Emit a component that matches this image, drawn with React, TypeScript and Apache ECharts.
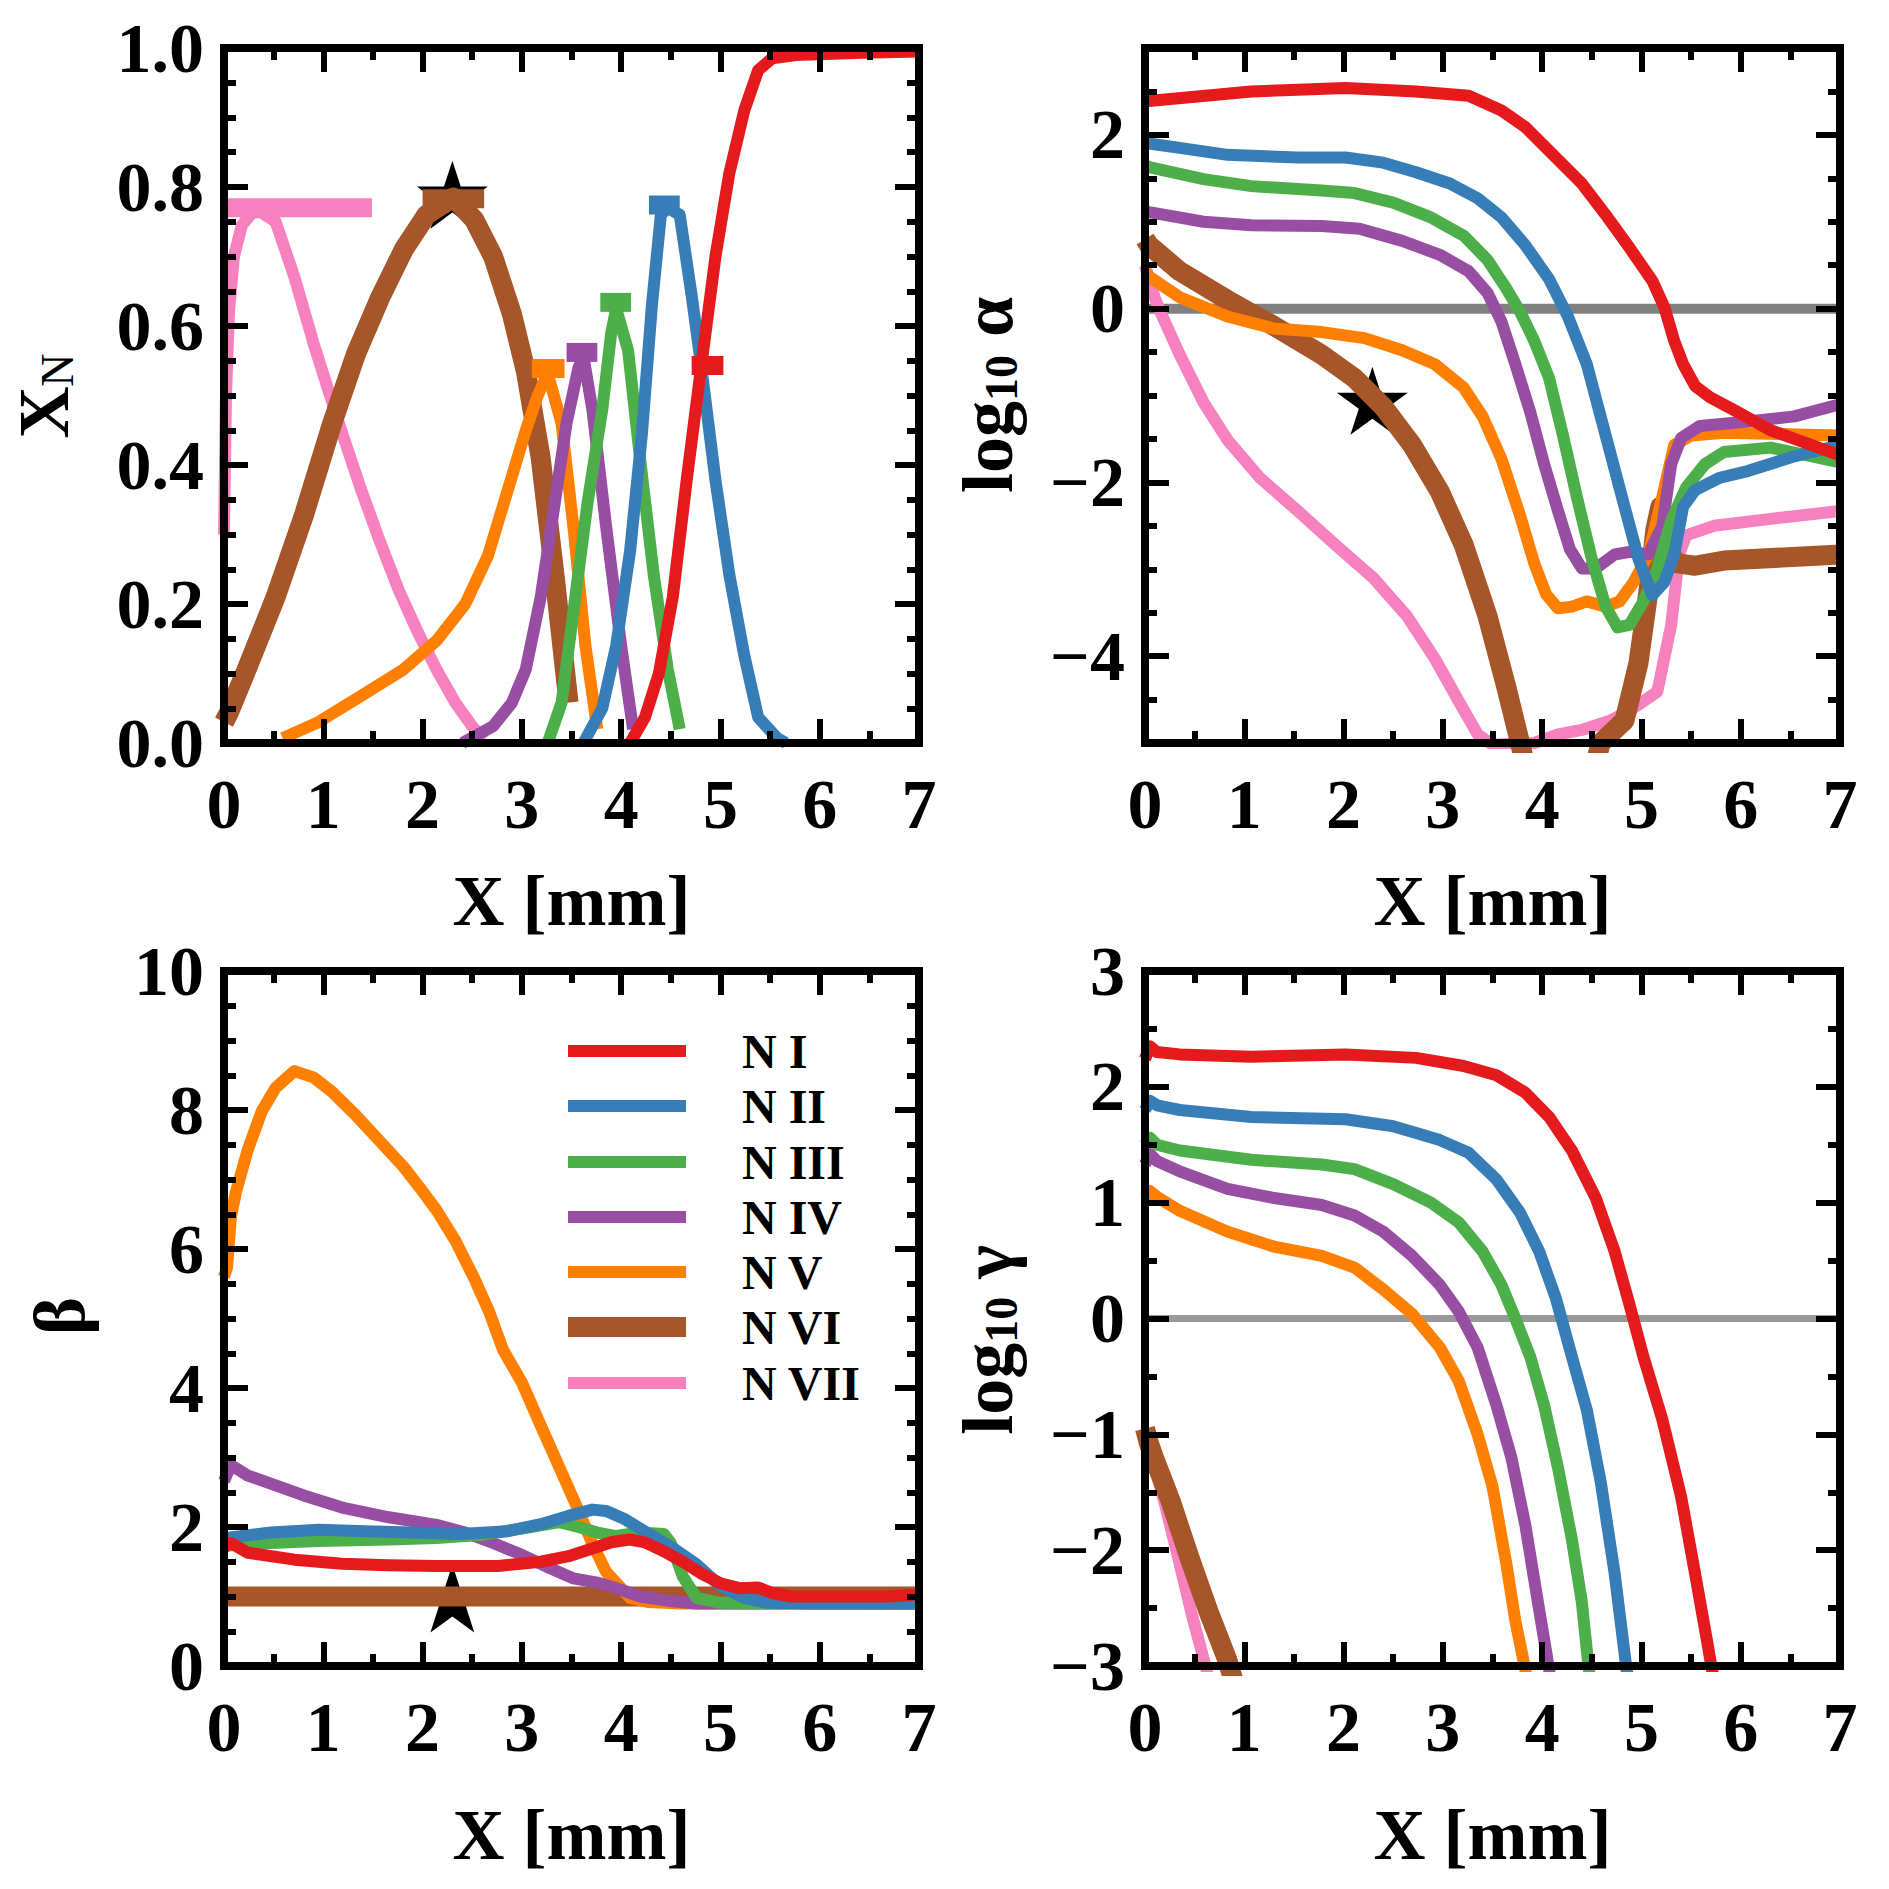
import React, { useEffect, useRef } from 'react';
import * as echarts from 'echarts';

type Pt = [number, number];

const FONT = "'Liberation Serif', 'Times New Roman', serif";

const ionNames = ['N I', 'N II', 'N III', 'N IV', 'N V', 'N VI', 'N VII'];
const ionColors = ['#e41a1c', '#377eb8', '#4daf4a', '#984ea3', '#ff7f00', '#a65628', '#f781bf'];
const ionWidths = [12, 12, 12, 12, 12, 20, 12];

// ---- ion fractions X_N ----
const xnNI: Pt[] = [[4.09, 0], [4.24, 0.037], [4.38, 0.1], [4.52, 0.21], [4.66, 0.378], [4.8, 0.535], [4.95, 0.7], [5.09, 0.82], [5.24, 0.91], [5.38, 0.968], [5.52, 0.985], [5.76, 0.99], [6.43, 0.993], [7, 0.995]];
const xnNII: Pt[] = [[3.62, 0], [3.81, 0.05], [3.95, 0.14], [4.09, 0.276], [4.21, 0.446], [4.31, 0.63], [4.4, 0.76], [4.47, 0.77], [4.59, 0.76], [4.71, 0.644], [4.8, 0.549], [4.95, 0.378], [5.09, 0.242], [5.24, 0.126], [5.38, 0.037], [5.57, 0.007], [5.66, 0]];
const xnNIII: Pt[] = [[3.26, 0], [3.4, 0.058], [3.52, 0.19], [3.66, 0.344], [3.81, 0.48], [3.9, 0.59], [3.95, 0.625], [4.07, 0.565], [4.19, 0.41], [4.33, 0.24], [4.47, 0.106], [4.59, 0.02]];
const xnNIV: Pt[] = [[2.4, 0], [2.71, 0.024], [2.9, 0.058], [3.04, 0.106], [3.19, 0.21], [3.33, 0.344], [3.45, 0.46], [3.57, 0.54], [3.62, 0.556], [3.71, 0.48], [3.85, 0.31], [4.0, 0.14], [4.12, 0.02]];
const xnNV: Pt[] = [[0.59, 0.007], [0.95, 0.03], [1.43, 0.072], [1.81, 0.106], [2.14, 0.147], [2.43, 0.2], [2.66, 0.27], [2.85, 0.36], [3.04, 0.45], [3.16, 0.5], [3.26, 0.532], [3.4, 0.46], [3.52, 0.31], [3.64, 0.14], [3.76, 0.02]];
const xnNVI: Pt[] = [[0, 0.03], [0.05, 0.044], [0.24, 0.11], [0.52, 0.21], [0.81, 0.33], [1.09, 0.46], [1.33, 0.56], [1.57, 0.64], [1.81, 0.71], [2.04, 0.76], [2.31, 0.785], [2.52, 0.753], [2.71, 0.7], [2.9, 0.617], [3.04, 0.535], [3.19, 0.41], [3.33, 0.24], [3.47, 0.058]];
const xnNVII: Pt[] = [[0, 0.3], [0.02, 0.5], [0.05, 0.62], [0.1, 0.7], [0.18, 0.745], [0.28, 0.762], [0.36, 0.765], [0.52, 0.75], [0.71, 0.67], [0.9, 0.576], [1.05, 0.508], [1.19, 0.446], [1.38, 0.365], [1.57, 0.29], [1.76, 0.22], [1.95, 0.16], [2.14, 0.106], [2.33, 0.058], [2.5, 0.024], [2.62, 0.005]];

// peak markers of X_N (level, from, to)
const xnPeakLevel = [0.543, 0.774, 0.634, 0.562, 0.539, 0.783, 0.77];
const xnPeakFrom = [4.71, 4.28, 3.79, 3.45, 3.1, 2.0, 0];
const xnPeakTo = [5.03, 4.59, 4.1, 3.76, 3.43, 2.62, 1.49];

// ---- log10 alpha ----
const alNI: Pt[] = [[0, 2.38], [0.04, 2.39], [1.07, 2.5], [2.02, 2.54], [2.73, 2.5], [3.26, 2.45], [3.59, 2.28], [3.83, 2.09], [4.11, 1.77], [4.4, 1.44], [4.64, 1.08], [4.88, 0.7], [5.11, 0.32], [5.23, 0.02], [5.33, -0.37], [5.42, -0.64], [5.54, -0.89], [5.69, -1.02], [5.92, -1.16], [6.3, -1.4], [6.64, -1.54], [7, -1.69]];
const alNII: Pt[] = [[0, 1.92], [0.04, 1.9], [0.35, 1.85], [0.83, 1.77], [1.54, 1.74], [2.02, 1.74], [2.4, 1.68], [2.73, 1.57], [3.07, 1.44], [3.35, 1.27], [3.59, 1.05], [3.83, 0.73], [4.07, 0.34], [4.26, -0.09], [4.45, -0.64], [4.64, -1.46], [4.83, -2.28], [4.97, -2.88], [5.11, -3.3], [5.23, -3.15], [5.33, -2.83], [5.42, -2.28], [5.54, -2.09], [5.78, -1.95], [6.07, -1.87], [6.54, -1.7], [7, -1.57]];
const alNIII: Pt[] = [[0, 1.65], [0.04, 1.63], [0.59, 1.49], [1.07, 1.41], [1.78, 1.36], [2.11, 1.33], [2.5, 1.22], [2.88, 1.05], [3.21, 0.84], [3.45, 0.56], [3.64, 0.23], [3.78, -0.04], [3.92, -0.37], [4.07, -0.8], [4.21, -1.46], [4.35, -2.17], [4.5, -2.88], [4.64, -3.43], [4.76, -3.67], [4.88, -3.64], [5.02, -3.37], [5.16, -2.99], [5.3, -2.44], [5.45, -2.06], [5.64, -1.79], [5.83, -1.65], [6.3, -1.6], [7, -1.77]];
const alNIV: Pt[] = [[0, 1.13], [0.04, 1.11], [0.59, 1.0], [1.07, 0.96], [1.78, 0.95], [2.16, 0.92], [2.59, 0.78], [2.97, 0.62], [3.26, 0.43], [3.45, 0.18], [3.59, -0.15], [3.73, -0.64], [3.88, -1.19], [4.02, -1.79], [4.16, -2.33], [4.28, -2.77], [4.4, -2.99], [4.54, -2.99], [4.73, -2.83], [4.88, -2.8], [5.07, -2.83], [5.21, -2.5], [5.3, -1.79], [5.4, -1.49], [5.59, -1.35], [6.07, -1.3], [6.54, -1.24], [7, -1.1]];
const alNV: Pt[] = [[0, 0.42], [0.04, 0.37], [0.35, 0.13], [0.83, -0.09], [1.3, -0.23], [1.78, -0.27], [2.21, -0.34], [2.59, -0.48], [2.92, -0.64], [3.21, -0.91], [3.4, -1.24], [3.59, -1.73], [3.78, -2.39], [3.92, -2.93], [4.04, -3.29], [4.16, -3.45], [4.3, -3.43], [4.45, -3.37], [4.64, -3.43], [4.78, -3.37], [4.92, -3.15], [5.07, -2.83], [5.21, -2.17], [5.33, -1.57], [5.5, -1.46], [5.83, -1.43], [7, -1.46]];
const alNVI: Pt[] = [[0, 0.8], [0.04, 0.73], [0.35, 0.43], [0.83, 0.1], [1.3, -0.2], [1.78, -0.53], [2.11, -0.8], [2.4, -1.13], [2.69, -1.57], [2.97, -2.11], [3.21, -2.72], [3.45, -3.54], [3.64, -4.36], [3.78, -5.01], [3.9, -5.6], [4.45, -5.6], [4.59, -5.0], [4.83, -4.74], [4.97, -4.08], [5.07, -3.26], [5.14, -2.55], [5.19, -2.28], [5.26, -2.75], [5.35, -2.93], [5.54, -2.96], [5.83, -2.9], [7, -2.83]];
const alNVII: Pt[] = [[0, 0.5], [0.04, 0.35], [0.1, 0.12], [0.16, -0.05], [0.35, -0.53], [0.59, -1.08], [0.83, -1.51], [1.16, -1.95], [1.54, -2.33], [1.92, -2.72], [2.3, -3.1], [2.64, -3.54], [2.92, -4.03], [3.16, -4.52], [3.35, -4.9], [3.5, -5.02], [3.92, -5.0], [4.16, -4.9], [4.4, -4.85], [4.69, -4.74], [4.88, -4.63], [5.16, -4.41], [5.3, -3.64], [5.38, -2.83], [5.45, -2.61], [5.73, -2.5], [6.3, -2.42], [7, -2.33]];

// ---- beta ----
const beNI: Pt[] = [[0, 1.7], [0.04, 1.75], [0.07, 1.77], [0.24, 1.63], [0.71, 1.53], [1.19, 1.47], [1.66, 1.45], [2.14, 1.44], [2.76, 1.44], [3.19, 1.5], [3.47, 1.58], [3.71, 1.69], [3.9, 1.78], [4.09, 1.82], [4.24, 1.78], [4.43, 1.65], [4.62, 1.5], [4.81, 1.33], [5.0, 1.19], [5.19, 1.12], [5.38, 1.13], [5.52, 1.05], [5.71, 1.0], [6.2, 1.0], [6.7, 1.0], [7, 1.03]];
const beNII: Pt[] = [[0, 1.84], [0.47, 1.92], [0.95, 1.96], [1.43, 1.94], [1.9, 1.92], [2.38, 1.9], [2.86, 1.94], [3.19, 2.04], [3.47, 2.16], [3.71, 2.25], [3.85, 2.23], [4.04, 2.11], [4.28, 1.9], [4.52, 1.7], [4.76, 1.46], [5.0, 1.15], [5.24, 0.98], [5.47, 0.91], [5.95, 0.9], [7, 0.9]];
const beNIII: Pt[] = [[0, 1.73], [0.47, 1.77], [0.95, 1.8], [1.66, 1.82], [2.14, 1.84], [2.61, 1.89], [3.09, 2.0], [3.38, 2.07], [3.57, 2.0], [3.76, 1.92], [3.95, 1.87], [4.19, 1.92], [4.43, 1.9], [4.5, 1.77], [4.62, 1.29], [4.76, 0.98], [5.0, 0.91], [7, 0.9]];
const beNIV: Pt[] = [[0, 2.66], [0.07, 2.89], [0.14, 2.83], [0.24, 2.74], [0.52, 2.6], [0.81, 2.45], [1.19, 2.28], [1.66, 2.14], [2.14, 2.03], [2.43, 1.92], [2.71, 1.77], [3.0, 1.6], [3.28, 1.41], [3.52, 1.26], [3.76, 1.2], [3.95, 1.12], [4.19, 1.0], [4.47, 0.94], [4.76, 0.9], [7, 0.9]];
const beNV: Pt[] = [[0, 5.6], [0.03, 5.73], [0.07, 6.46], [0.12, 6.82], [0.24, 7.43], [0.38, 7.98], [0.52, 8.32], [0.71, 8.56], [0.9, 8.47], [1.09, 8.26], [1.33, 7.92], [1.57, 7.55], [1.81, 7.18], [2.0, 6.83], [2.14, 6.56], [2.33, 6.12], [2.52, 5.58], [2.67, 5.1], [2.81, 4.55], [3.0, 4.08], [3.19, 3.46], [3.38, 2.85], [3.57, 2.24], [3.71, 1.76], [3.85, 1.35], [4.0, 1.12], [4.09, 0.98], [4.28, 0.92], [4.6, 0.9], [7, 0.9]];
const beNVI: Pt[] = [[0, 1.0], [3.5, 1.0], [7, 1.0]];
const beNVII: Pt[] = [[0, 1.0], [7, 1.0]];

// ---- log10 gamma ----
const gaNI: Pt[] = [[0, 2.24], [0.05, 2.35], [0.12, 2.3], [0.35, 2.28], [1.07, 2.26], [2.02, 2.28], [2.73, 2.25], [3.21, 2.18], [3.54, 2.1], [3.83, 1.95], [4.07, 1.74], [4.3, 1.45], [4.54, 1.04], [4.73, 0.58], [4.88, 0.12], [5.02, -0.33], [5.21, -0.87], [5.4, -1.54], [5.54, -2.2], [5.66, -2.78], [5.71, -3.03], [5.75, -3.2]];
const gaNII: Pt[] = [[0, 1.8], [0.05, 1.88], [0.12, 1.84], [0.35, 1.8], [1.07, 1.74], [2.02, 1.72], [2.5, 1.66], [2.97, 1.54], [3.26, 1.43], [3.54, 1.2], [3.78, 0.91], [3.97, 0.58], [4.14, 0.17], [4.3, -0.33], [4.45, -0.79], [4.59, -1.41], [4.73, -2.2], [4.85, -3.03], [4.9, -3.2]];
const gaNIII: Pt[] = [[0, 1.5], [0.05, 1.56], [0.12, 1.5], [0.35, 1.45], [1.07, 1.37], [1.78, 1.33], [2.11, 1.29], [2.5, 1.16], [2.88, 1.0], [3.16, 0.83], [3.4, 0.58], [3.59, 0.29], [3.73, 0.0], [3.88, -0.33], [4.02, -0.75], [4.16, -1.29], [4.3, -1.91], [4.4, -2.45], [4.47, -3.03], [4.5, -3.2]];
const gaNIV: Pt[] = [[0, 1.33], [0.05, 1.42], [0.12, 1.36], [0.35, 1.27], [0.83, 1.12], [1.3, 1.04], [1.78, 0.98], [2.11, 0.89], [2.4, 0.75], [2.69, 0.54], [2.97, 0.29], [3.16, 0.06], [3.35, -0.25], [3.54, -0.75], [3.69, -1.2], [3.83, -1.78], [3.95, -2.41], [4.07, -3.03], [4.1, -3.2]];
const gaNV: Pt[] = [[0, 1.05], [0.05, 1.1], [0.12, 1.05], [0.35, 0.93], [0.83, 0.75], [1.3, 0.62], [1.78, 0.54], [2.11, 0.44], [2.4, 0.25], [2.69, 0.04], [2.97, -0.25], [3.16, -0.54], [3.35, -1.0], [3.5, -1.45], [3.64, -2.12], [3.73, -2.61], [3.83, -3.03], [3.86, -3.2]];
const gaNVI: Pt[] = [[0, -0.95], [0.04, -1.08], [0.09, -1.2], [0.26, -1.58], [0.45, -2.07], [0.64, -2.53], [0.83, -2.95], [0.9, -3.15]];
const gaNVII: Pt[] = [[0, -1.0], [0.09, -1.25], [0.2, -1.6], [0.33, -2.05], [0.47, -2.55], [0.61, -3.0], [0.65, -3.15]];

// reference markers (upper panels and beta panel)
const starX = [2.3, 2.29, 2.3];
const starY = [0.789, -1.06, 0.97];

const xTicks = [0, 1, 2, 3, 4, 5, 6, 7];
const alphaTicks = [-4, -2, 0, 2];
const zeroLevel = 0;

const STAR = 'path://M0,-100 L22.45,-30.9 L95.1,-30.9 L36.3,11.8 L58.8,80.9 L0,38.2 L-58.8,80.9 L-36.3,11.8 L-95.1,-30.9 L-22.45,-30.9 Z';

const minusFmt = (v: number) => {
  const r = Math.round(v * 100) / 100;
  return r < 0 ? '\u2212' + Math.abs(r) : String(r);
};

interface Panel {
  rect: [number, number, number, number];
  yMin: number;
  yMax: number;
  yStep: number;
  yMinorSplit: number;
  yCustom?: number[];
  fmt: (v: number) => string;
  data: Pt[][];
  nameGap: number;
  zero?: { color: string; width: number };
}

const panels: Panel[] = [
  { rect: [224, 48, 695, 695], yMin: 0, yMax: 1, yStep: 0.2, yMinorSplit: 4, fmt: (v) => v.toFixed(1), nameGap: 122,
    data: [xnNI, xnNII, xnNIII, xnNIV, xnNV, xnNVI, xnNVII] },
  { rect: [1145, 48, 695, 695], yMin: -5, yMax: 3, yStep: 0.5, yMinorSplit: 1, yCustom: alphaTicks, fmt: minusFmt, nameGap: 122,
    data: [alNI, alNII, alNIII, alNIV, alNV, alNVI, alNVII], zero: { color: '#808080', width: 10 } },
  { rect: [224, 971, 695, 695], yMin: 0, yMax: 10, yStep: 2, yMinorSplit: 4, fmt: (v) => String(v), nameGap: 133,
    data: [beNI, beNII, beNIII, beNIV, beNV, beNVI, beNVII] },
  { rect: [1145, 971, 695, 695], yMin: -3, yMax: 3, yStep: 1, yMinorSplit: 2, fmt: minusFmt, nameGap: 133,
    data: [gaNI, gaNII, gaNIII, gaNIV, gaNV, gaNVI, gaNVII], zero: { color: '#999999', width: 7 } },
];

const black = '#000';
const lineAxis = { show: true, onZero: false, lineStyle: { color: black, width: 8, cap: 'square' } };
const noLine = { show: false, onZero: false };
const majorTick = { show: true, inside: true, length: 24, lineStyle: { color: black, width: 6 } };
const minorTickStyle = { show: true, length: 12, lineStyle: { color: black, width: 6 } };
const tickLabel = { fontFamily: FONT, fontWeight: 'bold', fontSize: 70, color: black };

function buildOption() {
  const grid: any[] = [];
  const xAxis: any[] = [];
  const yAxis: any[] = [];
  const series: any[] = [];

  panels.forEach((p, gi) => {
    grid.push({ left: p.rect[0], top: p.rect[1], width: p.rect[2], height: p.rect[3], containLabel: false });

    const xBase = {
      gridIndex: gi, type: 'value', min: xTicks[0], max: xTicks[xTicks.length - 1], interval: 1, z: 10,
      axisLine: lineAxis, axisTick: majorTick,
      minorTick: { ...minorTickStyle, splitNumber: 2 },
      splitLine: { show: false }, minorSplitLine: { show: false },
    };
    const xIdx = xAxis.length;
    xAxis.push({
      ...xBase, position: 'bottom',
      name: 'X [mm]', nameLocation: 'middle', nameGap: p.nameGap,
      nameTextStyle: { fontFamily: FONT, fontWeight: 'bold', fontSize: 72, color: black },
      axisLabel: { ...tickLabel, show: true, margin: 26, showMinLabel: true, showMaxLabel: true },
    });
    xAxis.push({ ...xBase, position: 'top', axisLabel: { show: false } });

    const yIdx = yAxis.length;
    const yBase = {
      gridIndex: gi, type: 'value', min: p.yMin, max: p.yMax, z: 10,
      splitLine: { show: false }, minorSplitLine: { show: false },
    };
    if (p.yCustom) {
      // major ticks at custom values, minor ticks from a second axis on each side
      ['left', 'right'].forEach((pos) => {
        yAxis.push({
          ...yBase, position: pos, axisLine: lineAxis,
          axisTick: { ...majorTick, customValues: p.yCustom },
          axisLabel: pos === 'left'
            ? { ...tickLabel, show: true, margin: 20, customValues: p.yCustom, formatter: p.fmt }
            : { show: false },
        });
      });
      ['left', 'right'].forEach((pos) => {
        yAxis.push({
          ...yBase, position: pos, interval: p.yStep,
          axisLine: noLine,
          axisTick: { ...minorTickStyle, inside: true },
          axisLabel: { show: false },
        });
      });
    } else {
      ['left', 'right'].forEach((pos) => {
        yAxis.push({
          ...yBase, position: pos, interval: p.yStep, axisLine: lineAxis, axisTick: majorTick,
          minorTick: { ...minorTickStyle, splitNumber: p.yMinorSplit },
          axisLabel: pos === 'left'
            ? { ...tickLabel, show: true, margin: 20, formatter: p.fmt, showMinLabel: true, showMaxLabel: true }
            : { show: false },
        });
      });
    }

    const common = { xAxisIndex: xIdx, yAxisIndex: yIdx, type: 'line', showSymbol: false, symbol: 'none', silent: true, animation: false, clip: true };

    if (p.zero) {
      series.push({ ...common, data: [[xTicks[0], zeroLevel], [xTicks[xTicks.length - 1], zeroLevel]],
        lineStyle: { color: p.zero.color, width: p.zero.width, cap: 'butt' } });
    }

    const star = gi < 3 ? {
      xAxisIndex: xIdx, yAxisIndex: yIdx, type: 'scatter', symbol: STAR, symbolSize: [71, 68],
      itemStyle: { color: black, opacity: 1 }, silent: true, animation: false,
      data: [[starX[gi], starY[gi]]],
    } : null;

    // draw order: N VII first, N I last
    for (let k = 6; k >= 0; k--) {
      if (k === 5 && star && gi !== 1) series.push(star);
      series.push({
        ...common, name: ionNames[k], data: p.data[k],
        lineStyle: { color: ionColors[k], width: ionWidths[k], join: 'round', cap: 'butt' },
      });
      if (gi === 0) {
        series.push({
          ...common, data: [[xnPeakFrom[k], xnPeakLevel[k]], [xnPeakTo[k], xnPeakLevel[k]]],
          lineStyle: { color: ionColors[k], width: 19, cap: 'butt' },
        });
      }
    }
    if (star && gi === 1) series.push(star);
  });

  // y-axis titles
  const richBase = { fontFamily: FONT, fontWeight: 'bold', fontSize: 72, lineHeight: 72, verticalAlign: 'middle', fill: black };
  const richSubBold = { fontFamily: FONT, fontWeight: 'bold', fontSize: 46, lineHeight: 36, verticalAlign: 'bottom', fill: black };
  const richSubReg = { fontFamily: FONT, fontWeight: 'normal', fontSize: 46, lineHeight: 36, verticalAlign: 'bottom', fill: black };
  const yTitles = [
    { x: 44, y: 396, text: '{a|X}{n|N}' },
    { x: 988, y: 395, text: '{a|log}{s|10}{a| \u03b1}' },
    { x: 60, y: 1316, text: '{a|\u03b2}' },
    { x: 988, y: 1340, text: '{a|log}{s|10}{a| \u03b3}' },
  ];
  const graphic: any[] = yTitles.map((t) => ({
    type: 'text', x: t.x, y: t.y, rotation: Math.PI / 2, z: 100,
    style: { text: t.text, align: 'center', verticalAlign: 'middle', rich: { a: richBase, s: richSubBold, n: richSubReg } },
  }));

  // legend inside the beta panel
  const legendRows = [1051, 1106, 1162, 1217, 1272, 1327, 1383];
  ionNames.forEach((name, k) => {
    const h = k === 5 ? 20 : 12;
    graphic.push({ type: 'rect', shape: { x: 568, y: legendRows[k] - h / 2, width: 118, height: h }, style: { fill: ionColors[k] }, z: 100 });
    graphic.push({ type: 'text', x: 742, y: legendRows[k], z: 100,
      style: { text: name, fontFamily: FONT, fontWeight: 'bold', fontSize: 48, fill: black, align: 'left', verticalAlign: 'middle' } });
  });

  return {
    animation: false,
    backgroundColor: '#ffffff',
    textStyle: { fontFamily: FONT },
    grid, xAxis, yAxis, series, graphic,
  };
}

export default function App() {
  const ref = useRef<HTMLDivElement>(null);
  useEffect(() => {
    if (!ref.current) return;
    const chart = echarts.init(ref.current, undefined, { renderer: 'svg' });
    chart.setOption(buildOption() as any);
    return () => chart.dispose();
  }, []);
  return <div ref={ref} style={{ position: 'absolute', left: 0, top: 0, width: 1889, height: 1889, background: '#fff' }} />;
}
